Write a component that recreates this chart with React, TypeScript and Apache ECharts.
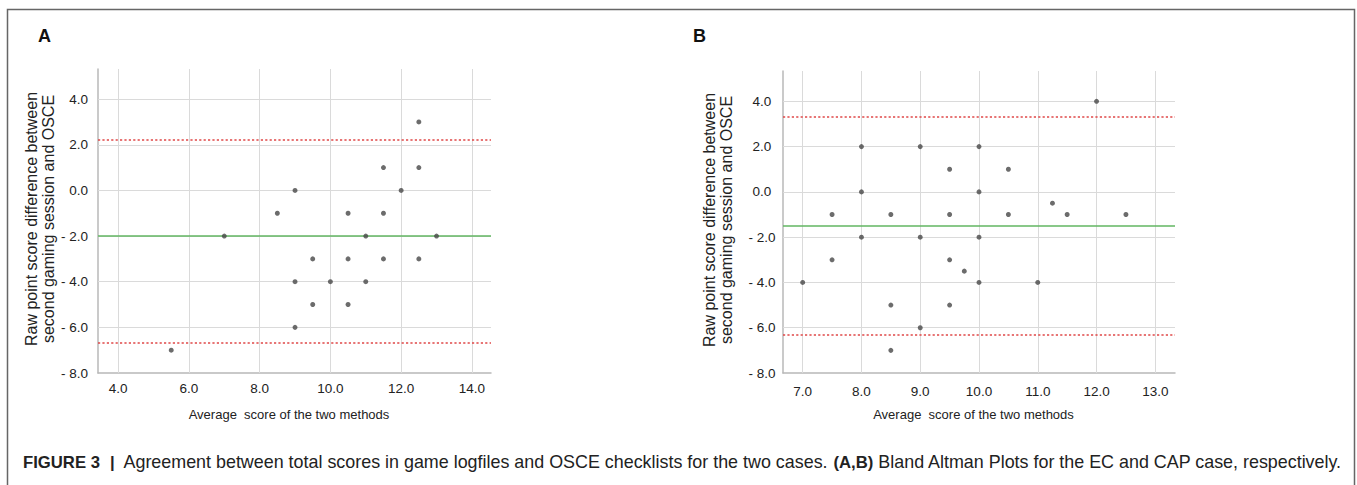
import React, { useEffect, useRef } from "react";
import * as echarts from "echarts";

// Panel A (EC case)
const aAvg = [5.5, 7, 8.5, 9, 9, 9, 9.5, 9.5, 10, 10.5, 10.5, 10.5, 11, 11, 11.5, 11.5, 11.5, 12, 12.5, 12.5, 12.5, 13];
const aDiff = [-7, -2, -1, 0, -4, -6, -3, -5, -4, -1, -3, -5, -2, -4, 1, -1, -3, 0, 3, 1, -3, -2];
const aLimits = [2.22, -6.67];
const aMean = -2.0;
const aXTicks = [4, 6, 8, 10, 12, 14];

// Panel B (CAP case)
const bAvg = [7, 7.5, 7.5, 8, 8, 8, 8.5, 8.5, 8.5, 9, 9, 9, 9.5, 9.5, 9.5, 9.5, 9.75, 10, 10, 10, 10, 10.5, 10.5, 11, 11.25, 11.5, 12, 12.5];
const bDiff = [-4, -1, -3, 2, 0, -2, -1, -5, -7, 2, -2, -6, 1, -1, -3, -5, -3.5, 2, 0, -2, -4, 1, -1, -4, -0.5, -1, 4, -1];
const bLimits = [3.32, -6.31];
const bMean = -1.5;
const bXTicks = [7, 8, 9, 10, 11, 12, 13];

const yTicks = [-8, -6, -4, -2, 0, 2, 4];

const yTitle = "Raw point score difference between\nsecond gaming session and OSCE";
const xTitle = "Average  score of the two methods";
const panelLabels = ["A", "B"];

const SANS = "'Liberation Sans', Arial, Helvetica, sans-serif";

const fmt = (v: number) => (v < 0 ? "- " + Math.abs(v).toFixed(1) : v.toFixed(1));

export default function App() {
  const ref = useRef<HTMLDivElement>(null);
  useEffect(() => {
    document.body.style.margin = "0";
    if (!ref.current) return;
    const chart = echarts.init(ref.current, undefined, { renderer: "svg" });

    const grids = [
      { left: 98, top: 69, width: 393, height: 304 },
      { left: 783, top: 71, width: 392, height: 302 },
    ];
    const xRanges = [
      [3.43, 14.54],
      [6.665, 13.335],
    ];
    const yMax = [5.32, 5.34];
    const xTickSets = [aXTicks, bXTicks];
    const yMargins = [10, 21];
    const yAligns = ["right", "center"];
    const xMargins = [8, 11];

    const xAxis = [0, 1].map((i) => ({
      type: "value",
      gridIndex: i,
      min: xRanges[i][0],
      max: xRanges[i][1],
      axisLine: { show: true, onZero: false, lineStyle: { color: "#b8b8b8", width: 1.5 } },
      axisTick: { show: false },
      splitLine: { show: false },
      axisLabel: {
        customValues: xTickSets[i],
        formatter: fmt,
        margin: xMargins[i],
        fontFamily: SANS,
        fontSize: 13.5,
        color: "#222",
      },
      name: xTitle,
      nameLocation: "middle",
      nameGap: 35,
      nameTextStyle: { fontFamily: SANS, fontSize: 13, color: "#222", padding: [0, 11, 0, 0] },
    }));

    const yAxis = [0, 1].map((i) => ({
      type: "value",
      gridIndex: i,
      min: -8,
      max: yMax[i],
      axisLine: { show: true, onZero: false, lineStyle: { color: "#b8b8b8", width: 1.5 } },
      axisTick: { show: false },
      splitLine: { show: false },
      axisLabel: {
        customValues: yTicks,
        formatter: fmt,
        margin: yMargins[i],
        align: yAligns[i],
        fontFamily: SANS,
        fontSize: 13.5,
        color: "#222",
      },
    }));

    const gridSeries = [0, 1].map((i) => ({
      type: "scatter",
      xAxisIndex: i,
      yAxisIndex: i,
      data: [],
      silent: true,
      z: 1,
      markLine: {
        z: 1,
        symbol: ["none", "none"],
        silent: true,
        label: { show: false },
        emphasis: { disabled: true },
        lineStyle: { color: "#dadada", width: 1, type: "solid" },
        data: [
          ...xTickSets[i].map((v) => ({ xAxis: v })),
          ...yTicks.filter((v) => v > -8).map((v) => ({ yAxis: v })),
        ],
      },
    }));

    const limits = [aLimits, bLimits];
    const means = [aMean, bMean];
    const limitSeries = [0, 1].map((i) => ({
      type: "scatter",
      xAxisIndex: i,
      yAxisIndex: i,
      data: [],
      silent: true,
      z: 2,
      markLine: {
        z: 2,
        symbol: ["none", "none"],
        silent: true,
        label: { show: false },
        emphasis: { disabled: true },
        data: [
          ...limits[i].map((v) => ({
            yAxis: v,
            lineStyle: { color: "#e04848", width: 1.5, type: [2.2, 2.2] },
          })),
          { yAxis: means[i], lineStyle: { color: "#62b662", width: 1.5, type: "solid" } },
        ],
      },
    }));

    const avgs = [aAvg, bAvg];
    const diffs = [aDiff, bDiff];
    const pointSeries = [0, 1].map((i) => ({
      type: "scatter",
      xAxisIndex: i,
      yAxisIndex: i,
      z: 10,
      symbolSize: 5,
      itemStyle: { color: "#474747" },
      data: avgs[i].map((x, k) => [x, diffs[i][k]]),
    }));

    const yTitleCenters = [
      { x: 40, y: 219 },
      { x: 718, y: 220 },
    ];

    chart.setOption({
      animation: false,
      grid: grids,
      xAxis,
      yAxis,
      series: [...gridSeries, ...limitSeries, ...pointSeries],
      graphic: [
        {
          type: "rect",
          shape: { x: 7.5, y: 9.5, width: 1347, height: 520 },
          style: { fill: "none", stroke: "#666", lineWidth: 1.5 },
          silent: true,
        },
        ...[0, 1].map((i) => ({
          type: "text",
          x: i === 0 ? 38 : 693,
          y: 36,
          style: {
            text: panelLabels[i],
            font: `bold 18px ${SANS}`,
            fill: "#111",
            textAlign: "left",
            textVerticalAlign: "middle",
          },
        })),
        ...[0, 1].map((i) => ({
          type: "text",
          x: yTitleCenters[i].x,
          y: yTitleCenters[i].y,
          rotation: Math.PI / 2,
          style: {
            text: yTitle,
            font: `16px ${SANS}`,
            lineHeight: 16.5,
            fill: "#222",
            textAlign: "center",
            textVerticalAlign: "middle",
          },
        })),
        {
          type: "text",
          x: 23,
          y: 462,
          style: {
            text:
              "{b|FIGURE 3}  {b|\u007C}  Agreement between total scores in game logfiles and OSCE checklists for the two cases. {b|(A,B)} Bland Altman Plots for the EC and CAP case, respectively.",
            font: `17.9px ${SANS}`,
            fill: "#222",
            textAlign: "left",
            textVerticalAlign: "middle",
            rich: {
              b: { fontWeight: "bold", fontSize: 16.7, fontFamily: SANS, fill: "#222" },
            },
          },
        },
      ],
    });
    return () => chart.dispose();
  }, []);
  return <div ref={ref} style={{ width: 1357, height: 485 }} />;
}
